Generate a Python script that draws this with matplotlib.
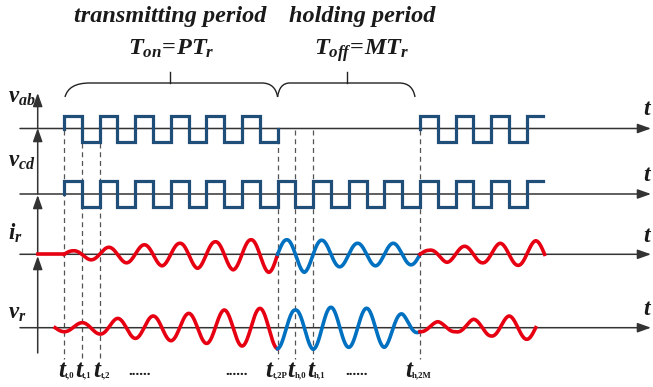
import numpy as np
import matplotlib.pyplot as plt
from matplotlib.path import Path
from matplotlib.patches import PathPatch

plt.rcParams['font.family'] = 'Liberation Serif'
plt.rcParams['mathtext.fontset'] = 'custom'
plt.rcParams['mathtext.it'] = 'Liberation Serif:bold:italic'
plt.rcParams['mathtext.rm'] = 'Liberation Serif:bold'
plt.rcParams['mathtext.bf'] = 'Liberation Serif:bold'

# time axis in switching periods T_r
P = 6          # cycles in transmitting period
M = 4          # cycles in holding period
T_END = 13.45

# switching voltages: level of every half period (+1 / -1 / 0)
vab_levels = [1, -1] * P + [0] * (2 * M) + [1, -1] * 3 + [1]
vcd_levels = [1, -1] * (P + M + 3) + [1]

# resonant current, peak of every half period
ir_tx = [3.5, 5.5, 7, 8.5, 9.5, 11.5, 11, 14, 12.5, 15.5, 14.5, 18]
ir_hold = [14.5, 18, 14, 12.5, 11, 11.5, 11, 10.5]
ir_after = [4, 8, 8, 8.5, 11, 11, 13.5]

# resonant voltage, extreme at every half period
vr_tx = [4, 5, 6.3, 9.3, 10.7, 11.7, 13, 14.3, 15.7, 17.7, 18.3, 19.3, 21]
vr_hold = [21, 17.7, 21.6, 20.4, 19.6, 19.4, 19.6, 13.7, 4]
vr_after = [4, 6, 4, 8.4, 8.3, 11.7, 11.6]

# time instants marked under the plot
tick_times = [0, 0.5, 1, P, P + 0.5, P + 1, P + M]
tick_subs = ['t,0', 't,1', 't,2', 't,2P', 'h,0', 'h,1', 'h,2M']

# layout (pixels)
W, H = 653, 387
X0, PX = 64, 35.6
VAB_Y, VCD_Y, IR_Y, VR_Y = 128.5, 194, 254.3, 327.7
SQ = 13

RED = '#e60012'
BLUE = '#0070c0'
NAVY = '#1f4e79'
AXC = '#333333'
TXT = '#1a1a1a'


def tx(x):
    return (x - X0) / PX


def square(levels, t_end):
    xs, ys = [0.0], [0.0]
    for k, lv in enumerate(levels):
        a, b = 0.5 * k, min(0.5 * (k + 1), t_end)
        if lv == 0:
            xs += [a, np.nan, b]
            ys += [0, np.nan, 0]
        else:
            xs += [a, b]
            ys += [lv, lv]
    return np.array(xs), np.array(ys)


def current(amps, t0, t1):
    t = np.linspace(t0, t1, 400)
    tk = t0 + 0.25 + 0.5 * np.arange(len(amps))
    return t, np.interp(t, tk, amps) * np.sin(2 * np.pi * t)


def voltage(amps, t0, t1, first):
    t = np.linspace(t0, t1, 400)
    tk = first + 0.5 * np.arange(len(amps))
    return t, -np.interp(t, tk, amps) * np.cos(2 * np.pi * t)


fig = plt.figure(figsize=(W / 100, H / 100), dpi=100)
ax = fig.add_axes([0, 0, 1, 1])
ax.set_xlim(tx(0), tx(W))
ax.set_ylim(H, 0)
ax.axis('off')

# axes with arrows
arr = dict(arrowstyle='-|>,head_length=0.45,head_width=0.16', color=AXC,
           lw=1.1, mutation_scale=18, shrinkA=0, shrinkB=0)
for y in [VAB_Y, VCD_Y, IR_Y, VR_Y]:
    ax.annotate('', xy=(tx(651), y), xytext=(tx(20), y), arrowprops=arr, zorder=2)
xa = tx(37.7)
for tail, tip in [(VAB_Y, 93), (VCD_Y, 128), (IR_Y, 195), (353, 256)]:
    ax.annotate('', xy=(xa, tip), xytext=(xa, tail), arrowprops=arr, zorder=2)

# dashed guides
for i, t in enumerate(tick_times):
    top = 143 if i in (1, 2) else 130
    ax.plot([t, t], [top, 359], color='#555555', lw=0.9, ls=(0, (4, 3)), zorder=1)

# square waves
x, y = square(vab_levels, T_END)
ax.plot(x, VAB_Y - SQ * y, color=NAVY, lw=2.3, solid_joinstyle='miter', zorder=3)
x, y = square(vcd_levels, T_END)
ax.plot(x, VCD_Y - SQ * y, color=NAVY, lw=2.3, solid_joinstyle='miter', zorder=3)

# resonant current
ax.plot([xa, 0], [IR_Y, IR_Y], color=RED, lw=2.6, zorder=3)
t, v = current(ir_tx, 0, P)
ax.plot(t, IR_Y - v, color=RED, lw=2.6, zorder=3)
t, v = current(ir_hold, P, P + M)
ax.plot(t, IR_Y - v, color=BLUE, lw=2.6, zorder=3)
t, v = current(ir_after, P + M, 13.5)
ax.plot(t, IR_Y - v, color=RED, lw=2.6, zorder=3)

# resonant voltage
t, v = voltage(vr_tx, -0.25, P, 0)
ax.plot(t, VR_Y - v, color=RED, lw=2.6, zorder=3)
t, v = voltage(vr_hold, P, P + M, P)
ax.plot(t, VR_Y - v, color=BLUE, lw=2.6, zorder=3)
t, v = voltage(vr_after, P + M, 13.25, P + M)
ax.plot(t, VR_Y - v, color=RED, lw=2.6, zorder=3)


# braces
def brace(a, b, mid, rl, rr):
    top, bot = 83, 97
    verts = [(a, bot), (a + 0.1 * rl, 88), (a + 0.4 * rl, top), (a + rl, top),
             (b - rr, top),
             (b - 0.4 * rr, top), (b - 0.1 * rr, 88), (b, bot)]
    codes = [Path.MOVETO, Path.CURVE4, Path.CURVE4, Path.CURVE4, Path.LINETO,
             Path.CURVE4, Path.CURVE4, Path.CURVE4]
    ax.add_patch(PathPatch(Path(verts, codes), fill=False, lw=1.0, color='#222222'))
    ax.plot([mid, mid], [top, 71.5], color='#222222', lw=1.0)


brace(tx(65), P, tx(170), 0.7, 0.45)
brace(P, tx(415), tx(346.7), 0.35, 0.45)

# titles
big = dict(fontsize=17.5, fontweight='bold', fontstyle='italic', ha='center',
           va='baseline', color=TXT)
ax.text(tx(170.5), 22, 'transmitting period', **big)
ax.text(tx(171), 55, r'$T_{on}\!=\!PT_r$', **big)
ax.text(tx(362), 22, 'holding period', **big)
ax.text(tx(362), 55, r'$T_{off}\!=\!MT_r$', **big)

# signal names
for lab, yb in [(r'$v_{ab}$', 103), (r'$v_{cd}$', 167), (r'$i_r$', 240), (r'$v_r$', 319)]:
    ax.text(tx(8), yb, lab, fontsize=16.5, ha='left', va='baseline', color=TXT)
for yb in [115, 181, 241.5, 315]:
    ax.text(tx(643), yb, 't', fontsize=17, fontweight='bold', fontstyle='italic',
            ha='left', va='baseline', color=TXT)

# instants
shift = [1, 0, 1, -5, -1, 1, -8]
for t, s, dx in zip(tick_times, tick_subs, shift):
    xr = t + dx / PX
    ax.text(xr, 377, 't', fontsize=18, fontweight='bold', fontstyle='italic',
            ha='right', va='baseline', color=TXT)
    ax.text(xr, 377, s, fontsize=6.3, fontweight='bold', ha='left',
            va='baseline', color=TXT)
for xd in [140, 237, 357]:
    ax.text(tx(xd), 375, '......', fontsize=11, fontweight='bold', ha='center',
            va='baseline', color=TXT)

fig.savefig('out.png', dpi=100)
